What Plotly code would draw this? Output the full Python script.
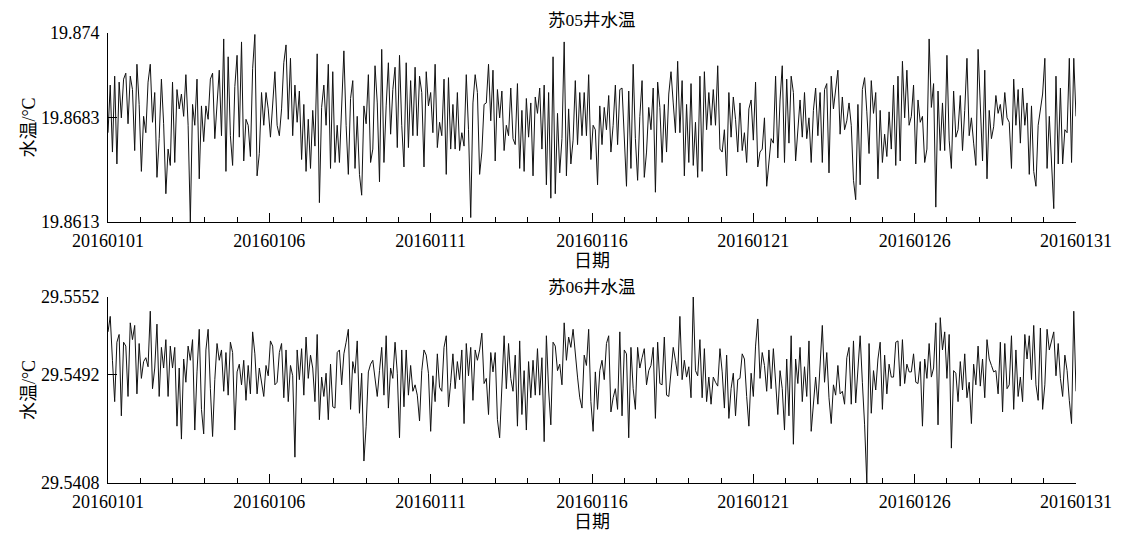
import pandas as pd
import plotly.graph_objects as go

# ---------------- data ----------------
panel_titles = ["苏05井水温", "苏06井水温"]
x_title = "日期"
y_title = "水温/°C"

su05_temp = [
    19.8673, 19.8705, 19.8660, 19.8711, 19.8652, 19.8707, 19.8683, 19.8709, 19.8713, 19.8679, 19.8711, 19.8702,
    19.8661, 19.8719, 19.8692, 19.8647, 19.8684, 19.8673, 19.8707, 19.8719, 19.8680, 19.8700, 19.8643, 19.8669,
    19.8709, 19.8679, 19.8632, 19.8662, 19.8651, 19.8707, 19.8653, 19.8702, 19.8689, 19.8699, 19.8684, 19.8712,
    19.8678, 19.8613, 19.8692, 19.8678, 19.8709, 19.8642, 19.8691, 19.8667, 19.8691, 19.8682, 19.8709, 19.8713,
    19.8669, 19.8691, 19.8715, 19.8671, 19.8736, 19.8647, 19.8724, 19.8671, 19.8651, 19.8704, 19.8725, 19.8670,
    19.8734, 19.8654, 19.8682, 19.8678, 19.8657, 19.8716, 19.8739, 19.8644, 19.8659, 19.8700, 19.8678, 19.8700,
    19.8689, 19.8670, 19.8689, 19.8714, 19.8678, 19.8671, 19.8689, 19.8720, 19.8732, 19.8682, 19.8723, 19.8671,
    19.8705, 19.8680, 19.8701, 19.8655, 19.8692, 19.8647, 19.8682, 19.8649, 19.8688, 19.8664, 19.8726, 19.8626,
    19.8690, 19.8705, 19.8678, 19.8719, 19.8649, 19.8714, 19.8653, 19.8678, 19.8653, 19.8689, 19.8728, 19.8678,
    19.8645, 19.8696, 19.8708, 19.8649, 19.8684, 19.8645, 19.8631, 19.8691, 19.8679, 19.8712, 19.8653, 19.8662,
    19.8718, 19.8693, 19.8640, 19.8729, 19.8653, 19.8691, 19.8720, 19.8672, 19.8702, 19.8717, 19.8663, 19.8725,
    19.8678, 19.8650, 19.8720, 19.8663, 19.8708, 19.8671, 19.8717, 19.8671, 19.8711, 19.8700, 19.8650, 19.8714,
    19.8691, 19.8700, 19.8673, 19.8719, 19.8663, 19.8680, 19.8671, 19.8709, 19.8645, 19.8710, 19.8662, 19.8692,
    19.8662, 19.8700, 19.8661, 19.8673, 19.8664, 19.8712, 19.8675, 19.8616, 19.8693, 19.8712, 19.8700, 19.8645,
    19.8660, 19.8692, 19.8693, 19.8719, 19.8681, 19.8715, 19.8654, 19.8702, 19.8683, 19.8701, 19.8661, 19.8678,
    19.8671, 19.8703, 19.8669, 19.8665, 19.8706, 19.8649, 19.8688, 19.8647, 19.8696, 19.8670, 19.8693, 19.8644,
    19.8697, 19.8686, 19.8703, 19.8662, 19.8705, 19.8638, 19.8700, 19.8629, 19.8724, 19.8632, 19.8686, 19.8646,
    19.8669, 19.8734, 19.8644, 19.8689, 19.8652, 19.8668, 19.8708, 19.8665, 19.8700, 19.8671, 19.8700, 19.8671,
    19.8712, 19.8655, 19.8678, 19.8675, 19.8638, 19.8691, 19.8665, 19.8690, 19.8675, 19.8698, 19.8660, 19.8678,
    19.8705, 19.8665, 19.8702, 19.8703, 19.8671, 19.8637, 19.8701, 19.8649, 19.8719, 19.8669, 19.8641, 19.8684,
    19.8708, 19.8643, 19.8660, 19.8690, 19.8675, 19.8703, 19.8633, 19.8707, 19.8690, 19.8653, 19.8692, 19.8660,
    19.8699, 19.8714, 19.8693, 19.8673, 19.8721, 19.8673, 19.8708, 19.8644, 19.8692, 19.8653, 19.8706, 19.8651,
    19.8680, 19.8643, 19.8711, 19.8647, 19.8714, 19.8675, 19.8700, 19.8678, 19.8702, 19.8678, 19.8718, 19.8662,
    19.8660, 19.8675, 19.8644, 19.8700, 19.8670, 19.8697, 19.8682, 19.8660, 19.8693, 19.8661, 19.8673, 19.8653,
    19.8689, 19.8695, 19.8668, 19.8707, 19.8650, 19.8660, 19.8662, 19.8683, 19.8637, 19.8655, 19.8669, 19.8666,
    19.8711, 19.8656, 19.8695, 19.8718, 19.8653, 19.8709, 19.8666, 19.8711, 19.8700, 19.8654, 19.8673, 19.8695,
    19.8670, 19.8700, 19.8669, 19.8683, 19.8653, 19.8688, 19.8703, 19.8671, 19.8700, 19.8653, 19.8702, 19.8706,
    19.8646, 19.8711, 19.8689, 19.8701, 19.8715, 19.8672, 19.8697, 19.8675, 19.8681, 19.8693, 19.8678, 19.8641,
    19.8628, 19.8692, 19.8638, 19.8702, 19.8710, 19.8687, 19.8659, 19.8708, 19.8686, 19.8700, 19.8642, 19.8688,
    19.8653, 19.8672, 19.8657, 19.8687, 19.8662, 19.8705, 19.8651, 19.8711, 19.8654, 19.8721, 19.8683, 19.8715,
    19.8678, 19.8684, 19.8705, 19.8652, 19.8695, 19.8680, 19.8684, 19.8653, 19.8662, 19.8736, 19.8690, 19.8706,
    19.8623, 19.8701, 19.8661, 19.8693, 19.8661, 19.8725, 19.8668, 19.8649, 19.8701, 19.8670, 19.8675, 19.8698,
    19.8661, 19.8688, 19.8723, 19.8671, 19.8683, 19.8666, 19.8651, 19.8729, 19.8692, 19.8654, 19.8715, 19.8642,
    19.8688, 19.8669, 19.8677, 19.8698, 19.8686, 19.8692, 19.8678, 19.8700, 19.8683, 19.8680, 19.8649, 19.8709,
    19.8678, 19.8702, 19.8666, 19.8703, 19.8678, 19.8693, 19.8645, 19.8691, 19.8647, 19.8637, 19.8678, 19.8687,
    19.8699, 19.8723, 19.8649, 19.8684, 19.8655, 19.8622, 19.8711, 19.8652, 19.8703, 19.8652, 19.8675, 19.8673,
    19.8723, 19.8653, 19.8723, 19.8684,
]

su06_temp = [
    29.5525, 29.5537, 29.5503, 29.5471, 29.5517, 29.5523, 29.5460, 29.5517, 29.5514, 29.5475, 29.5532, 29.5519,
    29.5530, 29.5477, 29.5516, 29.5489, 29.5502, 29.5505, 29.5498, 29.5541, 29.5481, 29.5497, 29.5531, 29.5475,
    29.5513, 29.5497, 29.5519, 29.5475, 29.5514, 29.5497, 29.5513, 29.5452, 29.5497, 29.5442, 29.5504, 29.5486,
    29.5514, 29.5503, 29.5519, 29.5449, 29.5494, 29.5527, 29.5465, 29.5446, 29.5511, 29.5527, 29.5481, 29.5444,
    29.5488, 29.5516, 29.5503, 29.5511, 29.5479, 29.5509, 29.5476, 29.5517, 29.5509, 29.5449, 29.5494, 29.5500,
    29.5484, 29.5503, 29.5472, 29.5499, 29.5477, 29.5525, 29.5508, 29.5477, 29.5497, 29.5486, 29.5475, 29.5499,
    29.5491, 29.5518, 29.5514, 29.5484, 29.5486, 29.5509, 29.5516, 29.5474, 29.5511, 29.5471, 29.5499, 29.5491,
    29.5428, 29.5511, 29.5488, 29.5512, 29.5476, 29.5521, 29.5489, 29.5507, 29.5497, 29.5471, 29.5523, 29.5457,
    29.5490, 29.5475, 29.5493, 29.5457, 29.5500, 29.5467, 29.5466, 29.5509, 29.5511, 29.5484, 29.5508, 29.5517,
    29.5527, 29.5465, 29.5502, 29.5493, 29.5518, 29.5462, 29.5493, 29.5425, 29.5452, 29.5494, 29.5500, 29.5503,
    29.5490, 29.5475, 29.5495, 29.5513, 29.5476, 29.5522, 29.5466, 29.5497, 29.5489, 29.5517, 29.5493, 29.5443,
    29.5511, 29.5467, 29.5511, 29.5476, 29.5499, 29.5479, 29.5484, 29.5476, 29.5456, 29.5495, 29.5511, 29.5507,
    29.5493, 29.5448, 29.5491, 29.5471, 29.5508, 29.5482, 29.5479, 29.5513, 29.5522, 29.5467, 29.5486, 29.5508,
    29.5481, 29.5502, 29.5488, 29.5511, 29.5454, 29.5516, 29.5491, 29.5513, 29.5472, 29.5511, 29.5503, 29.5511,
    29.5524, 29.5485, 29.5489, 29.5461, 29.5509, 29.5494, 29.5509, 29.5457, 29.5443, 29.5488, 29.5522, 29.5481,
    29.5516, 29.5489, 29.5479, 29.5507, 29.5452, 29.5518, 29.5461, 29.5495, 29.5449, 29.5502, 29.5474, 29.5503,
    29.5476, 29.5512, 29.5476, 29.5505, 29.5440, 29.5522, 29.5480, 29.5453, 29.5517, 29.5514, 29.5495, 29.5500,
    29.5484, 29.5532, 29.5503, 29.5521, 29.5513, 29.5527, 29.5507, 29.5490, 29.5474, 29.5466, 29.5507, 29.5499,
    29.5527, 29.5471, 29.5448, 29.5494, 29.5465, 29.5495, 29.5503, 29.5488, 29.5516, 29.5522, 29.5463, 29.5474,
    29.5481, 29.5465, 29.5525, 29.5460, 29.5511, 29.5508, 29.5443, 29.5513, 29.5481, 29.5465, 29.5513, 29.5497,
    29.5505, 29.5512, 29.5484, 29.5495, 29.5499, 29.5513, 29.5458, 29.5517, 29.5485, 29.5484, 29.5521, 29.5476,
    29.5475, 29.5497, 29.5513, 29.5503, 29.5491, 29.5537, 29.5488, 29.5503, 29.5490, 29.5498, 29.5474, 29.5552,
    29.5495, 29.5491, 29.5519, 29.5474, 29.5512, 29.5471, 29.5490, 29.5469, 29.5490, 29.5486, 29.5483, 29.5512,
    29.5494, 29.5466, 29.5507, 29.5458, 29.5481, 29.5493, 29.5460, 29.5488, 29.5489, 29.5508, 29.5504, 29.5475,
    29.5452, 29.5493, 29.5475, 29.5514, 29.5535, 29.5489, 29.5509, 29.5499, 29.5479, 29.5511, 29.5481, 29.5512,
    29.5489, 29.5461, 29.5495, 29.5481, 29.5449, 29.5504, 29.5460, 29.5522, 29.5438, 29.5504, 29.5485, 29.5513,
    29.5471, 29.5498, 29.5475, 29.5518, 29.5448, 29.5472, 29.5490, 29.5469, 29.5504, 29.5530, 29.5486, 29.5509,
    29.5474, 29.5454, 29.5484, 29.5476, 29.5499, 29.5477, 29.5479, 29.5469, 29.5505, 29.5513, 29.5469, 29.5518,
    29.5470, 29.5499, 29.5522, 29.5486, 29.5453, 29.5408, 29.5516, 29.5462, 29.5495, 29.5480, 29.5504, 29.5517,
    29.5465, 29.5507, 29.5477, 29.5500, 29.5490, 29.5490, 29.5517, 29.5518, 29.5483, 29.5519, 29.5485, 29.5500,
    29.5494, 29.5494, 29.5508, 29.5486, 29.5485, 29.5502, 29.5452, 29.5504, 29.5489, 29.5516, 29.5490, 29.5497,
    29.5532, 29.5453, 29.5536, 29.5511, 29.5525, 29.5489, 29.5523, 29.5435, 29.5495, 29.5493, 29.5471, 29.5502,
    29.5480, 29.5508, 29.5474, 29.5486, 29.5454, 29.5500, 29.5484, 29.5514, 29.5483, 29.5504, 29.5474, 29.5519,
    29.5504, 29.5499, 29.5494, 29.5495, 29.5477, 29.5517, 29.5463, 29.5516, 29.5481, 29.5484, 29.5522, 29.5465,
    29.5511, 29.5475, 29.5490, 29.5471, 29.5523, 29.5504, 29.5522, 29.5488, 29.5530, 29.5484, 29.5472, 29.5528,
    29.5465, 29.5484, 29.5527, 29.5511, 29.5519, 29.5525, 29.5491, 29.5516, 29.5489, 29.5475, 29.5507, 29.5495,
    29.5472, 29.5454, 29.5541, 29.5479,
]

date_start = "2016-01-01"
date_end = "2016-01-31"
x_tick_dates = ["2016-01-01", "2016-01-06", "2016-01-11", "2016-01-16",
                "2016-01-21", "2016-01-26", "2016-01-31"]
x_tick_text = ["20160101", "20160106", "20160111", "20160116",
               "20160121", "20160126", "20160131"]

y05_ticks = [19.8613, 19.8683, 19.874]
y05_text = ["19.8613", "19.8683", "19.874"]
y06_ticks = [29.5408, 29.5492, 29.5552]
y06_text = ["29.5408", "29.5492", "29.5552"]

# ---------------- figure ----------------
times05 = pd.date_range(date_start, date_end, periods=len(su05_temp))
times06 = pd.date_range(date_start, date_end, periods=len(su06_temp))

FONT = "Liberation Serif, Noto Sans CJK SC, serif"
LINE = dict(color="#111111", width=1)

fig = go.Figure()
fig.add_trace(go.Scatter(x=times05, y=su05_temp, mode="lines", line=LINE,
                         xaxis="x", yaxis="y", showlegend=False))
fig.add_trace(go.Scatter(x=times06, y=su06_temp, mode="lines", line=LINE,
                         xaxis="x2", yaxis="y2", showlegend=False))

# page body has an 8px offset, so figure coords = screen coords - 8
OFF = 8
W, H = 1129, 545
ML, MR, MT, MB = 108 - OFF, 1129 - 1076 + OFF, 33 - OFF, 545 - 483 + OFF
PH = H - MT - MB


def py(pix):
    """screen pixel row -> paper fraction"""
    return (H - MB - (pix - OFF)) / PH


def xaxis_cfg(anchor):
    return dict(
        type="date", anchor=anchor, domain=[0, 1],
        range=[date_start, date_end],
        tickmode="array", tickvals=x_tick_dates, ticktext=x_tick_text,
        ticks="inside", ticklen=9, tickwidth=1, tickcolor="#000",
        minor=dict(ticks="inside", ticklen=5, tickwidth=1, tickcolor="#000",
                   dtick=86400000, tick0=date_start, showgrid=False),
        showline=True, linecolor="#000", linewidth=1,
        showgrid=False, zeroline=False,
        tickfont=dict(family=FONT, size=18, color="#000"),
        ticklabelstandoff=2,
        title=dict(text=x_title, font=dict(family=FONT, size=18, color="#000"), standoff=0),
    )


def yaxis_cfg(anchor, domain, rng, tv, tt):
    return dict(
        anchor=anchor, domain=domain, range=rng,
        tickmode="array", tickvals=tv, ticktext=tt,
        ticks="inside", ticklen=9, tickwidth=1, tickcolor="#000",
        showline=True, linecolor="#000", linewidth=1,
        showgrid=False, zeroline=False,
        tickfont=dict(family=FONT, size=18, color="#000"),
        ticklabelstandoff=4,
        title=dict(text=y_title, font=dict(family=FONT, size=18, color="#000"), standoff=0),
    )


fig.update_layout(
    width=W, height=H,
    margin=dict(l=ML, r=MR, t=MT, b=MB, pad=0),
    paper_bgcolor="white", plot_bgcolor="white",
    font=dict(family=FONT, color="#000"),
    xaxis=xaxis_cfg("y"),
    yaxis=yaxis_cfg("x", [py(222), 1.0], [y05_ticks[0], y05_ticks[-1]], y05_ticks, y05_text),
    xaxis2=xaxis_cfg("y2"),
    yaxis2=yaxis_cfg("x2", [0.0, py(297)], [y06_ticks[0], y06_ticks[-1]], y06_ticks, y06_text),
    annotations=[
        dict(text=panel_titles[0], x=0.5, xref="paper", y=py(OFF), yref="paper",
             xanchor="center", yanchor="top", showarrow=False,
             font=dict(family=FONT, size=17.5, color="#000")),
        dict(text=panel_titles[1], x=0.5, xref="paper", y=py(287), yref="paper",
             xanchor="center", yanchor="middle", showarrow=False,
             font=dict(family=FONT, size=17.5, color="#000")),
    ],
)

fig.write_html("out.html")
